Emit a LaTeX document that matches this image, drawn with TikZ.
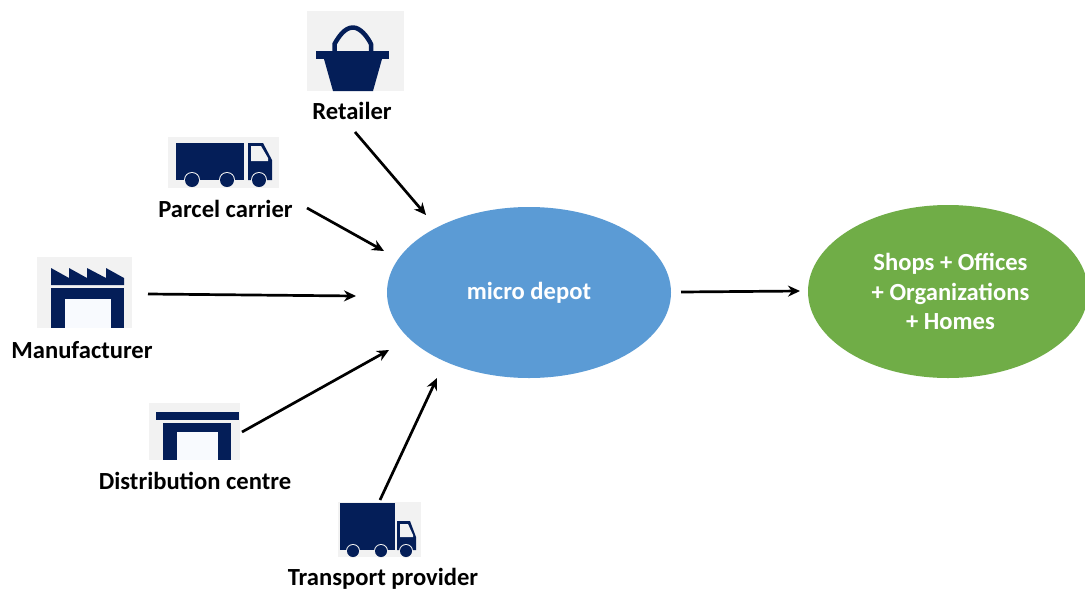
\documentclass[tikz,border=0pt]{standalone}
\usepackage{fontspec}
\setmainfont{Carlito}
\usetikzlibrary{shapes.geometric,arrows.meta}
\definecolor{navy}{HTML}{041E58}
\definecolor{iconbg}{HTML}{F2F2F2}
\definecolor{doorpale}{HTML}{F8FAFE}
\definecolor{depotblue}{HTML}{5B9BD5}
\definecolor{shopgreen}{HTML}{70AD47}
\tikzset{
  lab/.style={font=\fontsize{24.6}{28}\selectfont\bfseries,text=black,inner sep=0pt},
  wlab/.style={font=\fontsize{24.6}{29.5}\selectfont\bfseries,text=white,inner sep=0pt,align=center},
  conn/.style={draw=black,line width=2.7pt,-{Stealth[length=12pt,width=11pt]}},
  bgbox/.style={fill=iconbg,draw=none},
  ink/.style={fill=navy,draw=none},
  blob/.style={ellipse,draw=none,inner sep=0pt}
}
\begin{document}
\begin{tikzpicture}[x=1pt,y=-1pt]
\useasboundingbox (0,0) rectangle (1085,590);
\fill[white] (0,0) rectangle (1085,590);
\clip (0,0) rectangle (1085,590);

% ellipses
\node[blob,fill=depotblue,minimum width=284pt,minimum height=171pt] (depot) at (529,292.5) {};
\node[wlab] (depottext) at (529,293) {micro depot};
\node[blob,fill=shopgreen,minimum width=280pt,minimum height=173pt] (shops) at (948,291.5) {};
\node[wlab] (shopstext) at (950.5,291.5) {Shops + Offices\\+ Organizations\\+ Homes};

% retailer icon
\fill[bgbox] (307,11) rectangle (404,91);
\draw[navy,line width=4.5pt,line join=round] (334.5,52) -- (334.5,44) .. controls (339,36) and (345,27.5) .. (353,27.5) .. controls (360,27.5) and (367,36) .. (371,44) -- (371,52);
\fill[ink] (316,51) rectangle (389,59);
\fill[ink] (324,59) -- (382,59) -- (373,91) -- (333,91) -- cycle;

% parcel truck icon
\fill[bgbox] (168,137) rectangle (279,188);
\fill[ink] (176,143) rectangle (244,180);
\fill[ink] (248,143) -- (263,143) -- (272,160) -- (272,180) -- (248,180) -- cycle;
\fill[iconbg] (251,146) -- (261,146) -- (268,158) -- (268,161) -- (251,161) -- cycle;
\foreach \cx in {192,227,259}{
  \fill[iconbg] (\cx,180) circle (8pt);
  \fill[ink] (\cx,180) circle (7pt);
}

% manufacturer icon
\fill[bgbox] (37,257) rectangle (132,328);
\fill[ink] (51,268) -- (69,278) -- (69,268) -- (87,278) -- (87,268) -- (106,278) -- (106,268) -- (124,278) -- (124,285) -- (51,285) -- cycle;
\fill[ink] (51,288) rectangle (124,328);
\fill[doorpale] (65,299) rectangle (111,328);

% distribution icon
\fill[bgbox] (149,403) rectangle (240,460);
\fill[ink] (156,412) rectangle (239,420);
\fill[ink] (163,423) rectangle (231,460);
\fill[doorpale] (177,432) rectangle (218,460);

% transport truck icon
\fill[bgbox] (338,502) rectangle (421,557);
\fill[ink] (340,503) rectangle (395,550);
\fill[ink] (397,521) -- (410,521) -- (416,537) -- (416,550) -- (397,550) -- cycle;
\fill[iconbg] (400,524) -- (408,524) -- (413,535) -- (413,537) -- (400,537) -- cycle;
\foreach \cx in {353,381,406}{
  \fill[iconbg] (\cx,551) circle (7pt);
  \fill[ink] (\cx,551) circle (6pt);
}

% labels
\node[lab] (retailer) at (352,111) {Retailer};
\node[lab] (parcel) at (225.5,209) {Parcel carrier};
\node[lab] (manu) at (82,350) {Manufacturer};
\node[lab] (dist) at (195,481) {Distribution centre};
\node[lab] (transport) at (383,579) {Transport provider};

% connector ends
\coordinate (rs) at (355,132); \coordinate (re) at (426,215);
\coordinate (ps) at (307,208); \coordinate (pe) at (384,251);
\coordinate (ms) at (148,294); \coordinate (me) at (356,296);
\coordinate (ds) at (242,432); \coordinate (de) at (389,350);
\coordinate (ts) at (380,500); \coordinate (te) at (437,378);
\coordinate (os) at (681,292); \coordinate (oe) at (800,291);
\draw[conn] (rs) -- (re);
\draw[conn] (ps) -- (pe);
\draw[conn] (ms) -- (me);
\draw[conn] (ds) -- (de);
\draw[conn] (ts) -- (te);
\draw[conn] (os) -- (oe);
\end{tikzpicture}
\end{document}
